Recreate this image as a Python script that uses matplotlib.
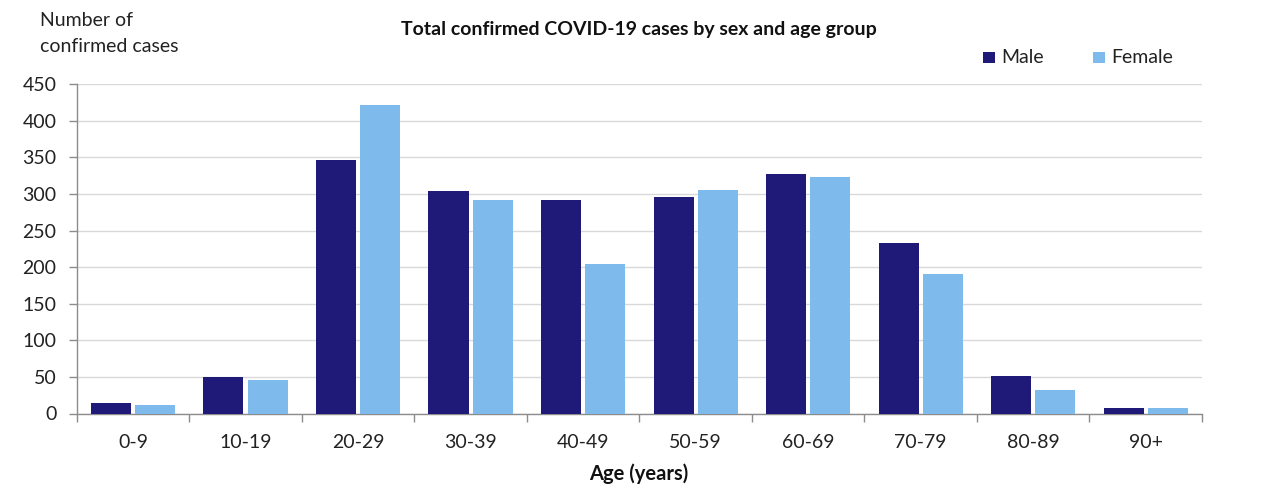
import matplotlib
matplotlib.use("Agg")
import matplotlib.pyplot as plt
import numpy as np
from matplotlib.patches import Rectangle

plt.rcParams['font.family'] = ['Lato', 'DejaVu Sans']

categories = ["0-9", "10-19", "20-29", "30-39", "40-49", "50-59", "60-69", "70-79", "80-89", "90+"]
male = [14, 50, 347, 304, 292, 296, 328, 233, 51, 8]
female = [12, 46, 422, 292, 205, 305, 323, 191, 32, 8]
yticks = [0, 50, 100, 150, 200, 250, 300, 350, 400, 450]
series_names = ["Male", "Female"]

male_color = "#1f1a77"
female_color = "#7fbaec"
text_color = "#222222"

W, H = 1280, 497
fig = plt.figure(figsize=(12.8, 4.97), dpi=100)
ax = fig.add_axes([76.7/W, 1-413.5/H, (1202-76.7)/W, (413.5-84.3)/H])

x = np.arange(len(categories))
w = 0.356
g = 0.018
ax.bar(x - g - w/2, male, width=w, color=male_color, zorder=3, label=series_names[0])
ax.bar(x + g + w/2, female, width=w, color=female_color, zorder=3, label=series_names[1])

ax.set_xlim(-0.5, len(categories) - 0.5)
ax.set_ylim(0, 450)
ax.set_yticks(yticks)
ax.yaxis.grid(True, color="#d9d9d9", linewidth=1, zorder=0)
ax.set_axisbelow(True)

for s in ["top", "right"]:
    ax.spines[s].set_visible(False)
for s in ["left", "bottom"]:
    ax.spines[s].set_color("#8c8c8c")
    ax.spines[s].set_linewidth(1)

ax.set_xticks(x)
ax.set_xticklabels(categories, fontsize=14, color=text_color)
ax.tick_params(axis="x", which="major", length=0, pad=15)
ax.set_xticks(np.arange(-0.5, len(categories)), minor=True)
ax.tick_params(axis="x", which="minor", length=6, color="#8c8c8c", width=1)
ax.tick_params(axis="y", length=5.5, color="#8c8c8c", width=1, labelsize=14,
               labelcolor=text_color, pad=9)

fig.text(0.499, 1-29/H, "Total confirmed COVID-19 cases by sex and age group",
         ha="center", va="center", fontsize=14, fontweight="bold", color="#111111")
fig.text(40/W, 1-20/H, "Number of", ha="left", va="center", fontsize=14, color=text_color)
fig.text(40/W, 1-47/H, "confirmed cases", ha="left", va="center", fontsize=14, color=text_color)
fig.text(639/W, 1-474/H, "Age (years)", ha="center", va="center", fontsize=14.5,
         fontweight="bold", color="#111111")

# legend (manual placement)
for (sx, tx), name, col in zip([(983, 1001.5), (1093, 1111)], series_names, [male_color, female_color]):
    fig.patches.append(Rectangle((sx/W, 1-63.3/H), 12/W, 11.6/H, transform=fig.transFigure,
                                 facecolor=col, edgecolor="none"))
    fig.text(tx/W, 1-57.5/H, name, ha="left", va="center", fontsize=14, color=text_color)

fig.savefig("out.png", dpi=100)
